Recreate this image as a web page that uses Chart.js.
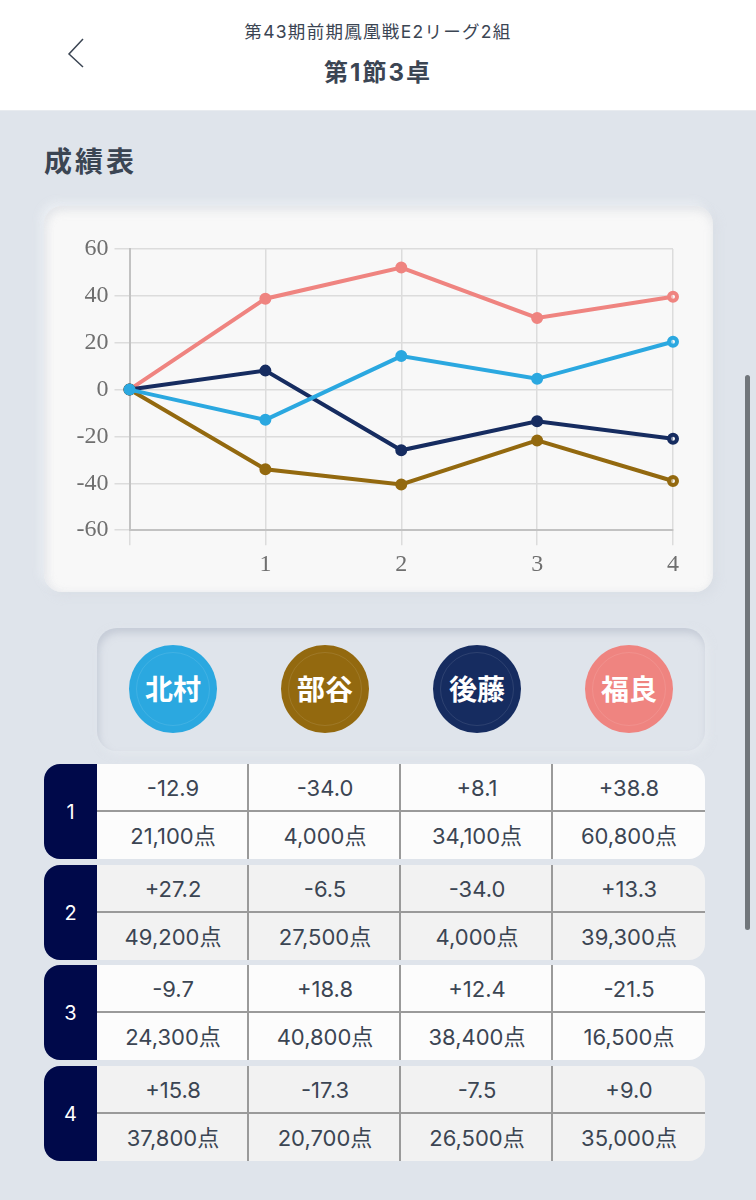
<!DOCTYPE html>
<html lang="ja">
<head>
<meta charset="utf-8">
<title>成績表</title>
<script src="https://cdn.jsdelivr.net/npm/chart.js@4"></script>
<style>
  html, body { margin: 0; padding: 0; }
  body {
    position: relative; width: 756px; height: 1200px; overflow: hidden;
    background: #dfe4eb; color: #3b4553;
    font-family: Inter, "Noto Sans CJK JP", "Noto Sans", sans-serif;
  }
  .abs { position: absolute; }
  #header { left: 0; top: 0; width: 756px; height: 111px; background: #fff; border-bottom: 1px solid #e8ebef; box-sizing: border-box; }
  #subtitle { left: 0; width: 756px; top: 18px; text-align: center; font-size: 17.5px; line-height: 28px; letter-spacing: 1.3px; }
  #round { left: 0; width: 756px; top: 55px; text-align: center; font-size: 24px; line-height: 36px; font-weight: 700; letter-spacing: 2px; }
  #back { left: 62px; top: 36px; }
  #heading { left: 44px; top: 142px; font-size: 28px; line-height: 40px; font-weight: 700; letter-spacing: 3px; }
  #card {
    left: 44px; top: 206px; width: 669px; height: 386px; background: #f8f8f8; border-radius: 18px;
    box-shadow: 4px 4px 10px rgba(205,212,222,.35), -4px -4px 8px rgba(236,239,244,.9), inset 0 5px 8px rgba(222,225,230,.7), inset 4px 0 7px rgba(232,234,238,.7);
  }
  #chart { left: 44px; top: 206px; }
  #players {
    left: 97px; top: 628px; width: 608px; height: 123px; border-radius: 20px; background: #dfe4eb;
    box-shadow: inset 2px 5px 7px rgba(176,184,198,.55), 3px 3px 8px rgba(236,239,244,.5);
  }
  .player {
    width: 88px; height: 88px; top: 645px; border-radius: 50%; color: #fff;
    font-size: 28px; line-height: 90px; font-weight: 700; text-align: center;
  }
  .player::after { content: ""; position: absolute; inset: 7px; border-radius: 50%; border: 1px solid rgba(255,255,255,.1); }
  .tab {
    left: 44px; width: 53px; background: #00094a; color: #fff; border-radius: 16px 0 0 16px;
    display: flex; align-items: center; justify-content: center; font-size: 20px;
  }
  .row { left: 97px; width: 608px; border-radius: 0 16px 16px 0; overflow: hidden; }
  .cell { position: absolute; width: 152px; text-align: center; font-size: 22px; box-sizing: border-box; }
  .vline { position: absolute; top: 0; bottom: 0; width: 2px; background: #9a9a9a; }
  .hline { position: absolute; left: 0; right: 0; height: 2px; background: #9a9a9a; }
  #scroll { left: 745px; top: 375px; width: 5px; height: 555px; background: #71767b; border-radius: 3px; }
</style>
</head>
<body>
<div id="header" class="abs"></div>
<div id="subtitle" class="abs">第43期前期鳳凰戦E2リーグ2組</div>
<div id="round" class="abs">第1節3卓</div>
<svg id="back" class="abs" width="26" height="36" viewBox="0 0 26 36"><path d="M21 3 L7 18 L21 31" fill="none" stroke="#3b4553" stroke-width="1.5"/></svg>
<div id="heading" class="abs">成績表</div>
<div id="card" class="abs"></div>
<canvas id="chart" class="abs" width="669" height="386" style="width:669px;height:386px"></canvas>
<div id="players" class="abs"></div>
<div id="table"></div>
<div id="scroll" class="abs"></div>

<script>
  // chart data
  const games = ["", "1", "2", "3", "4"];
  const yTicks = [60, 40, 20, 0, -20, -40, -60];
  const kitamura = [0, -12.9, 14.3, 4.6, 20.4];
  const hebeya = [0, -34.0, -40.5, -21.7, -39.0];
  const goto_ = [0, 8.1, -25.9, -13.5, -21.0];
  const fukura = [0, 38.8, 52.1, 30.6, 39.6];

  // table data
  const players = ["北村", "部谷", "後藤", "福良"];
  const playerColors = ["#2ba8e0", "#93690f", "#162c60", "#ef8480"];
  const rounds = ["1", "2", "3", "4"];
  const roundScores = [
    ["-12.9", "-34.0", "+8.1", "+38.8"],
    ["+27.2", "-6.5", "-34.0", "+13.3"],
    ["-9.7", "+18.8", "+12.4", "-21.5"],
    ["+15.8", "-17.3", "-7.5", "+9.0"]
  ];
  const roundPoints = [
    ["21,100点", "4,000点", "34,100点", "60,800点"],
    ["49,200点", "27,500点", "4,000点", "39,300点"],
    ["24,300点", "40,800点", "38,400点", "16,500点"],
    ["37,800点", "20,700点", "26,500点", "35,000点"]
  ];
  const rowTops = [764, 865, 965, 1066];

  // player badges
  const body = document.body;
  players.forEach((name, i) => {
    const el = document.createElement("div");
    el.className = "abs player";
    el.style.left = (129 + i * 152) + "px";
    el.style.background = playerColors[i];
    el.textContent = name;
    body.appendChild(el);
  });

  // score rows
  rounds.forEach((r, i) => {
    const top = rowTops[i];
    const tab = document.createElement("div");
    tab.className = "abs tab";
    tab.style.top = top + "px";
    tab.style.height = "95px";
    tab.textContent = r;
    body.appendChild(tab);

    const row = document.createElement("div");
    row.className = "abs row";
    row.style.top = top + "px";
    row.style.height = "95px";
    row.style.background = i % 2 ? "#f2f2f2" : "#fcfcfc";
    players.forEach((p, j) => {
      const a = document.createElement("div");
      a.className = "cell";
      a.style.cssText = `left:${j * 152}px;top:0;line-height:48px;`;
      a.textContent = roundScores[i][j];
      row.appendChild(a);
      const b = document.createElement("div");
      b.className = "cell";
      b.style.cssText = `left:${j * 152}px;top:48px;line-height:48px;`;
      b.textContent = roundPoints[i][j];
      row.appendChild(b);
      if (j > 0) {
        const v = document.createElement("div");
        v.className = "vline";
        v.style.left = (j * 152 - 2) + "px";
        row.appendChild(v);
      }
    });
    const h = document.createElement("div");
    h.className = "hline";
    h.style.top = "46px";
    row.appendChild(h);
    body.appendChild(row);
  });

  const lastIndex = games.length - 1;
  const series = [kitamura, hebeya, goto_, fukura];
  new Chart(document.getElementById("chart"), {
    type: "line",
    data: {
      labels: games,
      datasets: series.map((values, i) => ({
        label: players[i],
        data: values,
        borderColor: playerColors[i],
        borderWidth: 4,
        pointRadius: 4,
        pointBorderWidth: 4,
        pointBorderColor: playerColors[i],
        // last point shows a pale centre in the reference
        pointBackgroundColor: (ctx) => ctx.dataIndex === lastIndex ? "rgba(255,255,255,.5)" : playerColors[i],
        tension: 0
      }))
    },
    options: {
      responsive: false,
      animation: false,
      devicePixelRatio: 1,
      layout: { padding: { left: 0, right: 40, top: 43, bottom: 8 } },
      plugins: { legend: { display: false }, tooltip: { enabled: false } },
      scales: {
        x: {
          offset: false,
          grid: { color: "#dcdcdc", lineWidth: 1.5, tickLength: 15 },
          border: { color: "#c2c2c2", width: 2 },
          ticks: { color: "#6f6f6f", padding: 5, maxRotation: 0, autoSkip: false, font: { family: "'Liberation Serif', serif", size: 24 } }
        },
        y: {
          min: yTicks[yTicks.length - 1],
          max: yTicks[0],
          afterFit: (scale) => { scale.width = 85.5; },
          afterBuildTicks: (scale) => { scale.ticks = yTicks.map(v => ({ value: v })); },
          grid: { color: "#dcdcdc", lineWidth: 1.5, tickLength: 15 },
          border: { color: "#c2c2c2", width: 2 },
          ticks: { color: "#6f6f6f", padding: 6, font: { family: "'Liberation Serif', serif", size: 24 } }
        }
      }
    }
  });
</script>
</body>
</html>
